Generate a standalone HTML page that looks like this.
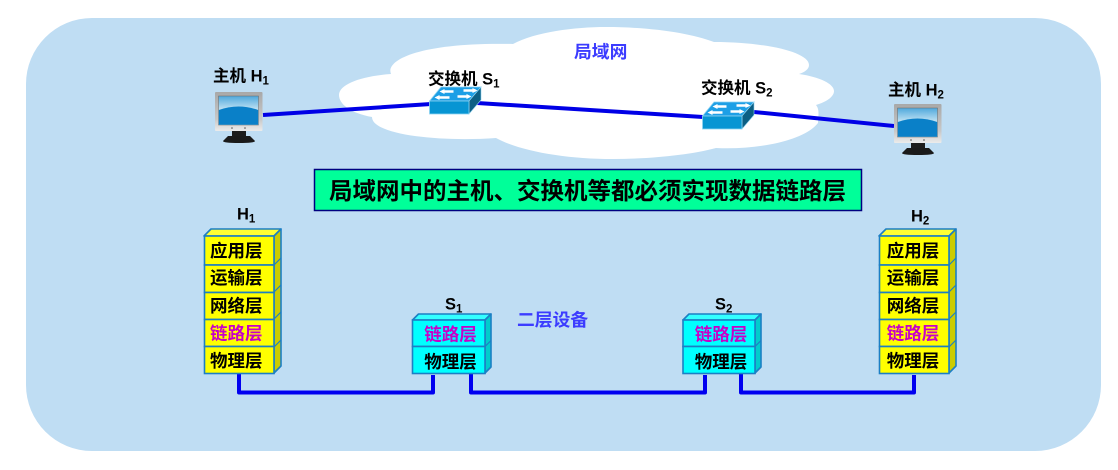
<!DOCTYPE html>
<html lang="zh">
<head>
<meta charset="utf-8">
<title>局域网</title>
<style>
html,body{margin:0;padding:0;background:#fff;width:1118px;height:470px;overflow:hidden}
svg{display:block}
text{font-family:"Liberation Sans","Noto Sans CJK SC",sans-serif;font-weight:bold;fill:#000}
.l{font-size:17.5px;text-anchor:middle}
.n{font-size:16.5px}
.s{font-size:11.5px}
.p{fill:#c800c8}
.b{fill:#3c3cff;font-size:17.8px}
.y{fill:#ffff00;stroke:#1c7fc4;stroke-width:1.6}
.yt{fill:#ffff33;stroke:#1c7fc4;stroke-width:1.6;stroke-linejoin:round}
.ys{fill:#cccc00;stroke:#1c7fc4;stroke-width:1.6;stroke-linejoin:round}
.c{fill:#00ffff;stroke:#1c7fc4;stroke-width:1.6}
.ct{fill:#33ffff;stroke:#1c7fc4;stroke-width:1.6;stroke-linejoin:round}
.cs{fill:#00cccc;stroke:#1c7fc4;stroke-width:1.6;stroke-linejoin:round}
</style>
</head>
<body>
<svg width="1118" height="470" viewBox="0 0 1118 470" xmlns="http://www.w3.org/2000/svg">
<defs>
<linearGradient id="scr" x1="0" y1="0" x2="0" y2="1">
<stop offset="0" stop-color="#4fa8dc"/><stop offset=".5" stop-color="#c8e6f5"/><stop offset="1" stop-color="#c8e6f5"/>
</linearGradient>
<linearGradient id="fr" x1="0" y1="0" x2="0" y2="1">
<stop offset="0" stop-color="#a8a8a8"/><stop offset=".7" stop-color="#c8c8c8"/><stop offset="1" stop-color="#ececec"/>
</linearGradient>
<g id="mon">
<rect x="0" y="0" width="47.500" height="39" rx="1" fill="url(#fr)"/>
<rect x="3.500" y="4" width="40" height="29" fill="url(#scr)" stroke="#666" stroke-width=".5"/>
<path d="M3.800 18 Q23.500 11 43.200 18 V32.800 H3.800 Z" fill="#0a80c8"/>
<circle cx="17" cy="36" r=".8" fill="#555"/><circle cx="30" cy="36" r=".8" fill="#555"/>
<rect x="17" y="39" width="14" height="5" fill="#1c1c1c"/>
<path d="M8 49 L13 44 H35 L40 49 Q40 51 24 51 Q8 51 8 49 Z" fill="#1a1a1a"/>
</g>
<g id="sw">
<path d="M0 14 L11.500 0 H51.500 L39.500 14 Z" fill="#1d9fe6" stroke="#8fd4f2" stroke-width=".8"/>
<path d="M39.500 14 L51.500 0 V13 L39.500 27 Z" fill="#0c5f84" stroke="#8fd4f2" stroke-width=".6"/>
<rect x="0" y="14" width="39.500" height="13" fill="#0795d3" stroke="#8fd4f2" stroke-width=".8"/>
<path d="M13 4.500 h11 M34 3.500 h12 M8 10.500 h12 M28 9.500 h11" stroke="#fff" stroke-width="2.400"/>
<path d="M10 4.500 l5 -2.500 v5 Z M48 3.500 l-5 -2.500 v5 Z M5 10.500 l5 -2.500 v5 Z M42 9.500 l-5 -2.500 v5 Z" fill="#fff"/>
</g>
</defs>

<rect x="26" y="18" width="1075" height="433" rx="66" ry="66" fill="#bfddf3"/>

<path fill="#fff" d="M339 95 C339 84 362 76 391 74 C385 60 420 42 513 44 C535 32 575 27 606 27 C650 27 690 33 714 42 C765 42 809 52 809 65 C809 69 805 72 799 74 C820 77 834 84 834 91 C834 97 826 102 816 105 C820 110 818 116 818 123 C805 140 760 150 716 148 C690 155 650 159 613 159 C565 159 520 151 496 138 C440 142 372 135 372 117 C350 113 339 104 339 95 Z"/>

<g stroke="#0000e6" stroke-width="4" fill="none">
<line x1="263" y1="115" x2="431" y2="104"/>
<line x1="477" y1="103" x2="703" y2="117"/>
<line x1="754" y1="112" x2="894" y2="126"/>
</g>

<use href="#mon" x="215" y="92"/>
<use href="#mon" x="894" y="104"/>
<use href="#sw" x="429.500" y="87"/>
<use href="#sw" x="702.500" y="102"/>

<text class="n" x="213" y="81.500">主机 H<tspan class="s" dy="3">1</tspan></text>
<text class="n" x="428" y="84.500">交换机 S<tspan class="s" dy="3">1</tspan></text>
<text class="n" x="701" y="93.500">交换机 S<tspan class="s" dy="3">2</tspan></text>
<text class="n" x="888" y="95.500">主机 H<tspan class="s" dy="3">2</tspan></text>
<text class="b" x="574" y="58">局域网</text>

<rect x="314.500" y="169.500" width="547" height="41" fill="#00ff99" stroke="#000080" stroke-width="1.500"/>
<text x="329" y="199" style="font-size:23.5px">局域网中的主机、交换机等都必须实现数据链路层</text>

<!-- connectors -->
<g stroke="#0000f0" stroke-width="4" fill="none" stroke-linejoin="round">
<path d="M239 374 V392.500 H433 V375"/>
<path d="M471 374 V392.500 H705 V375"/>
<path d="M741 374 V392.500 H914 V375"/>
</g>

<!-- H1 stack -->
<path class="yt" d="M204 236 L211 229 H281 L274 236 Z"/>
<path class="ys" d="M274 236 L281 229 V366 L274 373 Z"/>
<g stroke="#1c7fc4" stroke-width="1.200" fill="none"><path d="M274 265 L281 258 M274 292 L281 285 M274 319 L281 312 M274 347 L281 340"/></g>
<rect class="y" x="204.500" y="236" width="69.500" height="29"/>
<rect class="y" x="204.500" y="265" width="69.500" height="27.500"/>
<rect class="y" x="204.500" y="292.500" width="69.500" height="27"/>
<rect class="y" x="204.500" y="319.500" width="69.500" height="27"/>
<rect class="y" x="204.500" y="346.500" width="69.500" height="27"/>
<text class="l" x="236.300" y="257">应用层</text>
<text class="l" x="236.300" y="284">运输层</text>
<text class="l" x="236.300" y="312">网络层</text>
<text class="l p" x="236.300" y="339.500">链路层</text>
<text class="l" x="236.300" y="367">物理层</text>

<!-- H2 stack -->
<path class="yt" d="M879 236 L886 229 H956 L949 236 Z"/>
<path class="ys" d="M949 236 L956 229 V366 L949 373 Z"/>
<g stroke="#1c7fc4" stroke-width="1.200" fill="none"><path d="M949 265 L956 258 M949 292 L956 285 M949 319 L956 312 M949 347 L956 340"/></g>
<rect class="y" x="879.500" y="236" width="69.500" height="29"/>
<rect class="y" x="879.500" y="265" width="69.500" height="27.500"/>
<rect class="y" x="879.500" y="292.500" width="69.500" height="27"/>
<rect class="y" x="879.500" y="319.500" width="69.500" height="27"/>
<rect class="y" x="879.500" y="346.500" width="69.500" height="27"/>
<text class="l" x="913" y="257">应用层</text>
<text class="l" x="913" y="284">运输层</text>
<text class="l" x="913" y="312">网络层</text>
<text class="l p" x="913" y="339.500">链路层</text>
<text class="l" x="913" y="367">物理层</text>

<!-- S1 stack -->
<path class="ct" d="M412.500 320 L418.500 314 H491 L485 320 Z"/>
<path class="cs" d="M485 320 L491 314 V367 L485 373 Z"/>
<path d="M485 346.500 L491 340.500" stroke="#1c7fc4" stroke-width="1.200"/>
<rect class="c" x="412.500" y="320" width="72.500" height="26.500"/>
<rect class="c" x="412.500" y="346.500" width="72.500" height="27"/>
<text class="l p" x="450.500" y="340.500">链路层</text>
<text class="l" x="450.500" y="368">物理层</text>

<!-- S2 stack -->
<path class="ct" d="M683 320 L689 314 H761 L755 320 Z"/>
<path class="cs" d="M755 320 L761 314 V367 L755 373 Z"/>
<path d="M755 346.500 L761 340.500" stroke="#1c7fc4" stroke-width="1.200"/>
<rect class="c" x="683" y="320" width="72" height="26.500"/>
<rect class="c" x="683" y="346.500" width="72" height="27"/>
<text class="l p" x="721" y="340.500">链路层</text>
<text class="l" x="721" y="368">物理层</text>

<text class="n" x="237" y="219.500">H<tspan class="s" dy="3">1</tspan></text>
<text class="n" x="911" y="221.500">H<tspan class="s" dy="3">2</tspan></text>
<text class="n" x="445" y="309.500">S<tspan class="s" dy="3">1</tspan></text>
<text class="n" x="715" y="309.500">S<tspan class="s" dy="3">2</tspan></text>
<text class="b" x="517" y="326">二层设备</text>
</svg>
</body>
</html>
